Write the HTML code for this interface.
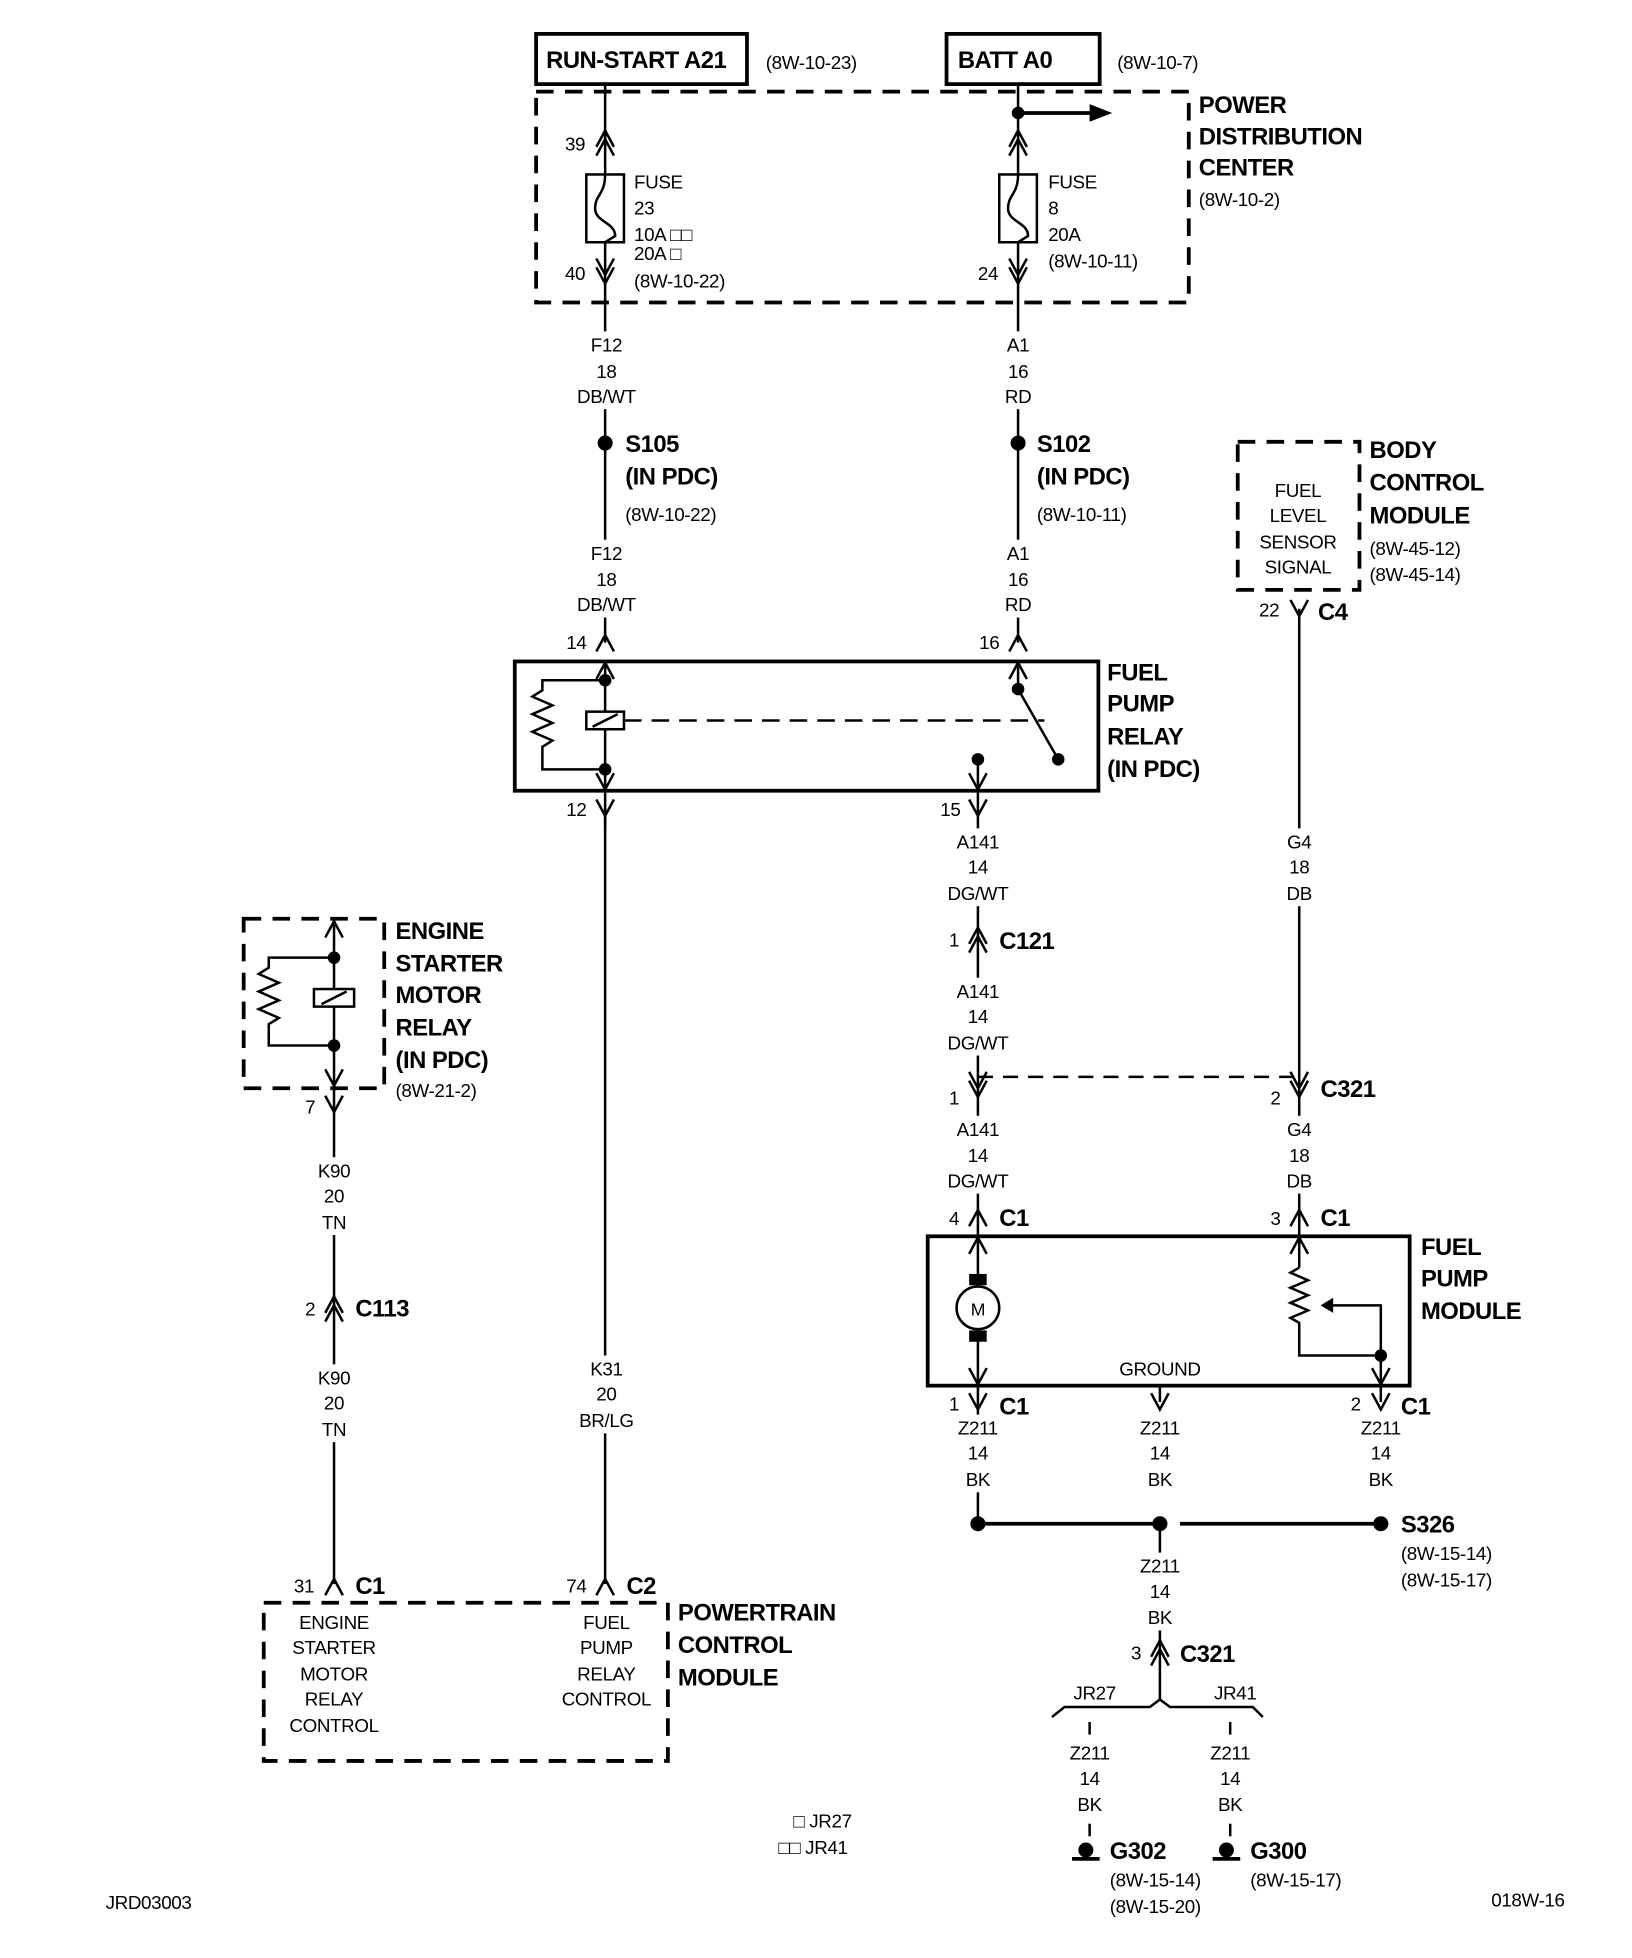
<!DOCTYPE html>
<html><head><meta charset="utf-8"><style>
html,body{margin:0;padding:0;background:#fff}
svg{display:block}
text{font-family:"Liberation Sans",sans-serif;fill:#000}
.s{font-size:15px;letter-spacing:-0.3px}
.b{font-size:19px;font-weight:bold;letter-spacing:-0.4px}
.c{text-anchor:middle}
</style></head><body>
<svg width="1632" height="1958" viewBox="0 0 1300 1560" xmlns="http://www.w3.org/2000/svg">
<defs>
<path id="m" d="M-7,7 L0,-6 L7,7" fill="none" stroke="#000" stroke-width="2"/>
<path id="f" d="M-7,-7 L0,6 L7,-7" fill="none" stroke="#000" stroke-width="2"/>
</defs>
<g stroke="#000" fill="none" stroke-width="2">
<rect x="427" y="27" width="168" height="40" stroke-width="3"/>
<rect x="754" y="27" width="122" height="40" stroke-width="3"/>
<rect x="427" y="73" width="520" height="168" stroke-width="3" stroke-dasharray="14 9"/>
<line x1="482" y1="67" x2="482" y2="512"/>
<line x1="811" y1="67" x2="811" y2="512"/>
<rect x="467" y="139" width="30" height="54" fill="#fff"/>
<path d="M482,139 C482,155 474,155 474,166 C474,177 490,177 490,188 L482,193"/>
<rect x="796" y="139" width="30" height="54" fill="#fff"/>
<path d="M811,139 C811,155 803,155 803,166 C803,177 819,177 819,188 L811,193"/>
<line x1="811" y1="90" x2="870" y2="90" stroke-width="3"/>
</g>
<polygon points="868,83 886,90 868,97" fill="#000"/>
<circle cx="811" cy="90" r="5" fill="#000"/>
<use href="#m" x="482" y="110"/><use href="#m" x="482" y="117"/>
<use href="#f" x="482" y="213"/><use href="#f" x="482" y="220"/>
<use href="#m" x="811" y="110"/><use href="#m" x="811" y="117"/>
<use href="#f" x="811" y="213"/><use href="#f" x="811" y="220"/>
<text class="b" x="435" y="54">RUN-START A21</text>
<text class="s" x="610" y="55">(8W-10-23)</text>
<text class="b" x="763" y="54">BATT A0</text>
<text class="s" x="890" y="55">(8W-10-7)</text>
<text class="b" x="955" y="90">POWER</text>
<text class="b" x="955" y="115">DISTRIBUTION</text>
<text class="b" x="955" y="140">CENTER</text>
<text class="s" x="955" y="164">(8W-10-2)</text>
<text class="s" x="450" y="120">39</text>
<text class="s" x="505" y="150">FUSE</text><text class="s" x="505" y="171">23</text>
<text class="s" x="505" y="192">10A □□</text><text class="s" x="505" y="207">20A □</text>
<text class="s" x="450" y="223">40</text><text class="s" x="505" y="229">(8W-10-22)</text>
<text class="s" x="835" y="150">FUSE</text><text class="s" x="835" y="171">8</text>
<text class="s" x="835" y="192">20A</text><text class="s" x="835" y="213">(8W-10-11)</text>
<text class="s" x="779" y="223">24</text>
<circle cx="482" cy="353" r="6" fill="#000"/><circle cx="811" cy="353" r="6" fill="#000"/>
<text class="b" x="498" y="360">S105</text><text class="b" x="498" y="386">(IN PDC)</text><text class="s" x="498" y="415">(8W-10-22)</text>
<text class="b" x="826" y="360">S102</text><text class="b" x="826" y="386">(IN PDC)</text><text class="s" x="826" y="415">(8W-10-11)</text>
<use href="#m" x="482" y="512"/><use href="#m" x="811" y="512"/>
<text class="s" x="451" y="517">14</text><text class="s" x="780" y="517">16</text>
<g stroke="#000" fill="none" stroke-width="2">
<rect x="410" y="527" width="465" height="103" stroke-width="3"/>
<line x1="482" y1="527" x2="482" y2="660"/>
<path d="M482,542 H432 V550 l-8,5 l16,7 l-16,7 l16,7 l-16,7 l16,7 l-8,5 V613 H482"/>
<rect x="467" y="567" width="30" height="14" fill="#fff"/>
<line x1="472" y1="579" x2="492" y2="569"/>
<line x1="497" y1="574" x2="832" y2="574" stroke-dasharray="14 8"/>
<line x1="811" y1="527" x2="811" y2="549"/>
<line x1="811" y1="549" x2="843" y2="605"/>
<line x1="779" y1="605" x2="779" y2="1214"/>
<line x1="1035" y1="485" x2="1035" y2="985"/>
<line x1="779" y1="858" x2="1035" y2="858" stroke-dasharray="12 8"/>
</g>
<use href="#m" x="482" y="534"/><use href="#f" x="482" y="623"/><use href="#m" x="811" y="534"/><use href="#f" x="779" y="623"/>
<circle cx="482" cy="542" r="5" fill="#000"/><circle cx="482" cy="613" r="5" fill="#000"/>
<circle cx="811" cy="549" r="5" fill="#000"/><circle cx="843" cy="605" r="5" fill="#000"/><circle cx="779" cy="605" r="5" fill="#000"/>
<text class="b" x="882" y="542">FUEL</text><text class="b" x="882" y="567">PUMP</text><text class="b" x="882" y="593">RELAY</text><text class="b" x="882" y="619">(IN PDC)</text>
<use href="#f" x="482" y="644"/><use href="#f" x="779" y="644"/>
<text class="s" x="451" y="650">12</text><text class="s" x="749" y="650">15</text>
<line x1="482" y1="644" x2="482" y2="1262" stroke="#000" stroke-width="2"/>
<use href="#m" x="779" y="745"/><use href="#m" x="779" y="752"/>
<text class="s" x="756" y="754">1</text><text class="b" x="796" y="756">C121</text>
<use href="#f" x="779" y="861"/><use href="#f" x="779" y="868"/>
<use href="#f" x="1035" y="861"/><use href="#f" x="1035" y="868"/>
<text class="s" x="756" y="880">1</text><text class="s" x="1012" y="880">2</text><text class="b" x="1052" y="874">C321</text>
<rect x="986" y="352" width="97" height="118" fill="none" stroke="#000" stroke-width="3" stroke-dasharray="14 9"/>
<text class="s c" x="1034" y="396">FUEL</text><text class="s c" x="1034" y="416">LEVEL</text><text class="s c" x="1034" y="437">SENSOR</text><text class="s c" x="1034" y="457">SIGNAL</text>
<text class="b" x="1091" y="365">BODY</text><text class="b" x="1091" y="391">CONTROL</text><text class="b" x="1091" y="417">MODULE</text>
<text class="s" x="1091" y="442">(8W-45-12)</text><text class="s" x="1091" y="463">(8W-45-14)</text>
<use href="#f" x="1035" y="485"/><text class="s" x="1003" y="491">22</text><text class="b" x="1050" y="494">C4</text>
<use href="#m" x="779" y="970"/><use href="#m" x="1035" y="970"/>
<text class="s" x="756" y="976">4</text><text class="b" x="796" y="977">C1</text>
<text class="s" x="1012" y="976">3</text><text class="b" x="1052" y="977">C1</text>
<g stroke="#000" fill="none" stroke-width="2">
<rect x="739" y="985" width="384" height="119" stroke-width="3"/>
<circle cx="779" cy="1042" r="17" fill="#fff"/>
<line x1="1035" y1="985" x2="1035" y2="1010"/>
<path d="M1035,1010 l-7,4 l14,6 l-14,6 l14,6 l-14,6 l14,6 l-14,6 l7,4 V1080 H1100 V1040 H1060"/>
<line x1="1100" y1="1080" x2="1100" y2="1117"/>
<line x1="924" y1="1104" x2="924" y2="1117"/>
</g>
<rect x="772" y="1015" width="14" height="9" fill="#000"/><rect x="772" y="1060" width="14" height="9" fill="#000"/>
<polygon points="1052,1040 1062,1034 1062,1046" fill="#000"/>
<circle cx="1100" cy="1080" r="5" fill="#000"/>
<use href="#m" x="779" y="992"/><use href="#f" x="779" y="1097"/><use href="#m" x="1035" y="992"/><use href="#f" x="1100" y="1097"/>
<text class="s c" x="779" y="1048" style="font-size:14px">M</text>
<text class="s c" x="924" y="1096">GROUND</text>
<text class="b" x="1132" y="1000">FUEL</text><text class="b" x="1132" y="1025">PUMP</text><text class="b" x="1132" y="1051">MODULE</text>
<use href="#f" x="779" y="1117"/><use href="#f" x="924" y="1117"/><use href="#f" x="1100" y="1117"/>
<text class="s" x="756" y="1124">1</text><text class="b" x="796" y="1127">C1</text>
<text class="s" x="1076" y="1124">2</text><text class="b" x="1116" y="1127">C1</text>
<g stroke="#000" stroke-width="3"><line x1="779" y1="1214" x2="924" y2="1214"/><line x1="940" y1="1214" x2="1100" y2="1214"/></g>
<circle cx="779" cy="1214" r="6" fill="#000"/><circle cx="924" cy="1214" r="6" fill="#000"/><circle cx="1100" cy="1214" r="6" fill="#000"/>
<text class="b" x="1116" y="1221">S326</text><text class="s" x="1116" y="1243">(8W-15-14)</text><text class="s" x="1116" y="1264">(8W-15-17)</text>
<g stroke="#000" fill="none" stroke-width="2">
<line x1="924" y1="1214" x2="924" y2="1355"/>
<path d="M838,1368 L848,1360 H916 L924,1354 L932,1360 H998 L1006,1368"/>
<line x1="868" y1="1372" x2="868" y2="1382"/><line x1="980" y1="1372" x2="980" y2="1382"/>
<line x1="868" y1="1453" x2="868" y2="1463"/><line x1="980" y1="1453" x2="980" y2="1463"/>
<line x1="854" y1="1481" x2="876" y2="1481" stroke-width="3"/><line x1="966" y1="1481" x2="988" y2="1481" stroke-width="3"/>
</g>
<use href="#m" x="924" y="1313"/><use href="#m" x="924" y="1320"/>
<text class="s" x="901" y="1322">3</text><text class="b" x="940" y="1324">C321</text>
<text class="s c" x="872" y="1354">JR27</text><text class="s c" x="984" y="1354">JR41</text>
<text class="s c" x="868" y="1402">Z211</text><text class="s c" x="868" y="1422">14</text><text class="s c" x="868" y="1443">BK</text>
<text class="s c" x="980" y="1402">Z211</text><text class="s c" x="980" y="1422">14</text><text class="s c" x="980" y="1443">BK</text>
<circle cx="865" cy="1474" r="6" fill="#000"/><circle cx="977" cy="1474" r="6" fill="#000"/>
<text class="b" x="884" y="1481">G302</text><text class="s" x="884" y="1503">(8W-15-14)</text><text class="s" x="884" y="1524">(8W-15-20)</text>
<text class="b" x="996" y="1481">G300</text><text class="s" x="996" y="1503">(8W-15-17)</text>
<text class="s" x="632" y="1456">□ JR27</text><text class="s" x="620" y="1477">□□ JR41</text>
<text class="s" x="84" y="1521">JRD03003</text><text class="s" x="1188" y="1519">018W-16</text>
<g stroke="#000" fill="none" stroke-width="2">
<rect x="194" y="732" width="112" height="135" stroke-width="3" stroke-dasharray="14 9"/>
<line x1="266" y1="732" x2="266" y2="1262"/>
<path d="M266,763 H214 V771 l-8,5 l16,7 l-16,7 l16,7 l-16,7 l16,7 l-8,5 V833 H266"/>
<rect x="250" y="788" width="32" height="14" fill="#fff"/>
<line x1="256" y1="800" x2="276" y2="790"/>
</g>
<use href="#m" x="266" y="740"/><use href="#f" x="266" y="859"/>
<circle cx="266" cy="763" r="5" fill="#000"/><circle cx="266" cy="833" r="5" fill="#000"/>
<text class="b" x="315" y="748">ENGINE</text><text class="b" x="315" y="774">STARTER</text><text class="b" x="315" y="799">MOTOR</text>
<text class="b" x="315" y="825">RELAY</text><text class="b" x="315" y="851">(IN PDC)</text><text class="s" x="315" y="874">(8W-21-2)</text>
<use href="#f" x="266" y="880"/><text class="s" x="243" y="887">7</text>
<use href="#m" x="266" y="1039"/><use href="#m" x="266" y="1046"/>
<text class="s" x="243" y="1048">2</text><text class="b" x="283" y="1049">C113</text>
<use href="#m" x="266" y="1264"/><use href="#m" x="482" y="1264"/>
<text class="s" x="234" y="1269">31</text><text class="b" x="283" y="1270">C1</text>
<text class="s" x="451" y="1269">74</text><text class="b" x="499" y="1270">C2</text>
<rect x="210" y="1277" width="322" height="126" fill="none" stroke="#000" stroke-width="3" stroke-dasharray="14 9"/>
<text class="s c" x="266" y="1298">ENGINE</text><text class="s c" x="266" y="1318">STARTER</text><text class="s c" x="266" y="1339">MOTOR</text><text class="s c" x="266" y="1359">RELAY</text><text class="s c" x="266" y="1380">CONTROL</text>
<text class="s c" x="483" y="1298">FUEL</text><text class="s c" x="483" y="1318">PUMP</text><text class="s c" x="483" y="1339">RELAY</text><text class="s c" x="483" y="1359">CONTROL</text>
<text class="b" x="540" y="1291">POWERTRAIN</text><text class="b" x="540" y="1317">CONTROL</text><text class="b" x="540" y="1343">MODULE</text>
<!-- wire label blocks with white backgrounds -->
<g fill="#fff">
<rect x="458" y="264" width="50" height="62"/><rect x="786" y="264" width="50" height="62"/>
<rect x="458" y="430" width="50" height="62"/><rect x="786" y="430" width="50" height="62"/>
<rect x="754" y="660" width="50" height="62"/><rect x="1010" y="660" width="50" height="62"/>
<rect x="754" y="779" width="50" height="62"/>
<rect x="754" y="889" width="50" height="62"/><rect x="1010" y="889" width="50" height="62"/>
<rect x="754" y="1127" width="50" height="62"/><rect x="899" y="1127" width="50" height="62"/><rect x="1075" y="1127" width="50" height="62"/>
<rect x="899" y="1237" width="50" height="62"/>
<rect x="241" y="922" width="50" height="62"/><rect x="241" y="1087" width="50" height="62"/>
<rect x="458" y="1080" width="50" height="62"/>
</g>
<text class="s c" x="483" y="280">F12</text><text class="s c" x="483" y="301">18</text><text class="s c" x="483" y="321">DB/WT</text>
<text class="s c" x="811" y="280">A1</text><text class="s c" x="811" y="301">16</text><text class="s c" x="811" y="321">RD</text>
<text class="s c" x="483" y="446">F12</text><text class="s c" x="483" y="467">18</text><text class="s c" x="483" y="487">DB/WT</text>
<text class="s c" x="811" y="446">A1</text><text class="s c" x="811" y="467">16</text><text class="s c" x="811" y="487">RD</text>
<text class="s c" x="779" y="676">A141</text><text class="s c" x="779" y="696">14</text><text class="s c" x="779" y="717">DG/WT</text>
<text class="s c" x="1035" y="676">G4</text><text class="s c" x="1035" y="696">18</text><text class="s c" x="1035" y="717">DB</text>
<text class="s c" x="779" y="795">A141</text><text class="s c" x="779" y="815">14</text><text class="s c" x="779" y="836">DG/WT</text>
<text class="s c" x="779" y="905">A141</text><text class="s c" x="779" y="926">14</text><text class="s c" x="779" y="946">DG/WT</text>
<text class="s c" x="1035" y="905">G4</text><text class="s c" x="1035" y="926">18</text><text class="s c" x="1035" y="946">DB</text>
<text class="s c" x="779" y="1143">Z211</text><text class="s c" x="779" y="1163">14</text><text class="s c" x="779" y="1184">BK</text>
<text class="s c" x="924" y="1143">Z211</text><text class="s c" x="924" y="1163">14</text><text class="s c" x="924" y="1184">BK</text>
<text class="s c" x="1100" y="1143">Z211</text><text class="s c" x="1100" y="1163">14</text><text class="s c" x="1100" y="1184">BK</text>
<text class="s c" x="924" y="1253">Z211</text><text class="s c" x="924" y="1273">14</text><text class="s c" x="924" y="1294">BK</text>
<text class="s c" x="266" y="938">K90</text><text class="s c" x="266" y="958">20</text><text class="s c" x="266" y="979">TN</text>
<text class="s c" x="266" y="1103">K90</text><text class="s c" x="266" y="1123">20</text><text class="s c" x="266" y="1144">TN</text>
<text class="s c" x="483" y="1096">K31</text><text class="s c" x="483" y="1116">20</text><text class="s c" x="483" y="1137">BR/LG</text>
</svg>
</body></html>
